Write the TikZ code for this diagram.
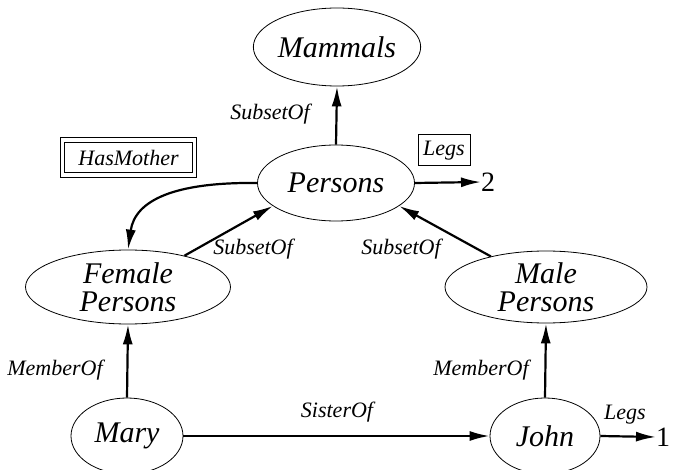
\documentclass[tikz,border=0pt]{standalone}
\usepackage{fontspec}
\setmainfont{Liberation Serif}
\usetikzlibrary{shapes.geometric,arrows.meta}
\begin{document}
\begin{tikzpicture}[x=1pt,y=-1pt,
  concept/.style={ellipse,draw,line width=0.8pt,inner sep=0pt,align=center,
    font=\itshape\fontsize{30}{28}\selectfont},
  rel/.style={font=\itshape\fontsize{22}{24}\selectfont,inner sep=0pt},
  link/.style={line width=2.2pt,-{Latex[length=20pt,width=10pt]}},
  numlabel/.style={font=\fontsize{28}{30}\selectfont,inner sep=0pt,anchor=west}]
\useasboundingbox (0,0) rectangle (674,470);

% category nodes
\node[concept,minimum width=158pt,minimum height=78pt] (mammals) at (337,47) {Mammals};
\node[concept,minimum width=157pt,minimum height=76pt] (persons) at (336,183) {Persons};
\node[concept,minimum width=205pt,minimum height=74pt] (female) at (128,287) {Female\\Persons};
\node[concept,minimum width=202pt,minimum height=72pt] (male) at (546,287) {Male\\Persons};
\node[concept,minimum width=112pt,minimum height=76pt] (mary) at (127,436) {Mary};
\node[concept,minimum width=110pt,minimum height=76pt] (john) at (545,436) {John};

% attribute values
\node[numlabel] (two) at (481,182) {2};
\node[numlabel] (one) at (656,437) {1};

% relation links
\draw[link] (persons.north) -- (mammals.south);
\draw[link] (female.29) -- (persons.200);
\draw[link] (male.151) -- (persons.340);
\draw[link] (mary.north) -- (female.south);
\draw[link] (john.north) -- (male.south);
\draw[link] (mary.east) -- (john.west);
\draw[link] (persons.east) -- (two.west);
\draw[link] (john.east) -- (one.west);
\draw[link] (persons.west) .. controls (175,182) and (135,200) .. (female.north);

% relation labels
\node[rel] (l1) at (270,114) {SubsetOf};
\node[rel] (l2) at (253,249) {SubsetOf};
\node[rel] (l3) at (401,249) {SubsetOf};
\node[rel] (l4) at (55,370) {MemberOf};
\node[rel] (l5) at (481,370) {MemberOf};
\node[rel] (l6) at (337,412) {SisterOf};
\node[rel] (l7) at (625,415) {Legs};
\node[rel,draw,line width=1pt,minimum width=52pt,minimum height=31pt] (l8) at (444,150.5) {Legs};
\node[rel,draw,line width=1pt,double,double distance=3.5pt,minimum width=132pt,minimum height=35pt] (l9) at (128.5,157.5) {HasMother};
\end{tikzpicture}
\end{document}
